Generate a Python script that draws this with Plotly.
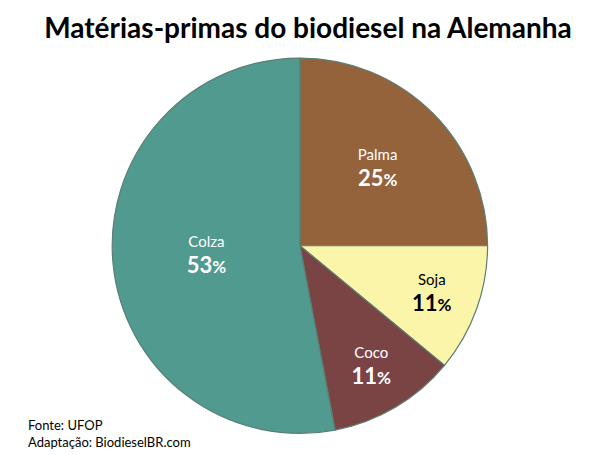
import plotly.graph_objects as go

labels = ["Palma", "Soja", "Coco", "Colza"]
values = [25, 11, 11, 53]
colors = ["#94623B", "#FAF5A8", "#7B4444", "#509A8F"]
text_colors = ["white", "black", "white", "white"]

texts = [f"<span style='font-size:15px'>{l}</span><br><b><span style='font-size:22px'>{v}</span><span style='font-size:17px'>%</span></b>"
         for l, v in zip(labels, values)]

fig = go.Figure(go.Pie(
    labels=labels, values=values, sort=False, direction="clockwise", rotation=0,
    marker=dict(colors=colors, line=dict(color="#5a7f74", width=1.2)),
    text=texts, textinfo="text", textposition="inside", insidetextorientation="horizontal",
    textfont=dict(family="Lato", size=20, color=text_colors),
    domain=dict(x=[0.173, 0.80], y=[0.065, 0.89]),
    hoverinfo="label+percent",
))

fig.update_layout(
    width=600, height=455, margin=dict(l=0, r=0, t=0, b=0),
    paper_bgcolor="white", showlegend=False,
    uniformtext=dict(minsize=8, mode="show"),
    title=dict(text="<b>Matérias-primas do biodiesel na Alemanha</b>", x=0.5, y=0.955,
               xanchor="center", yanchor="middle",
               font=dict(family="Lato", size=28, color="black")),
    annotations=[dict(text="Fonte: UFOP<br>Adaptação: BiodieselBR.com", x=0.03, y=0.025,
                      xref="paper", yref="paper", xanchor="left", yanchor="bottom",
                      showarrow=False, align="left",
                      font=dict(family="Lato", size=13, color="black"))],
)

fig.write_html("out.html")
